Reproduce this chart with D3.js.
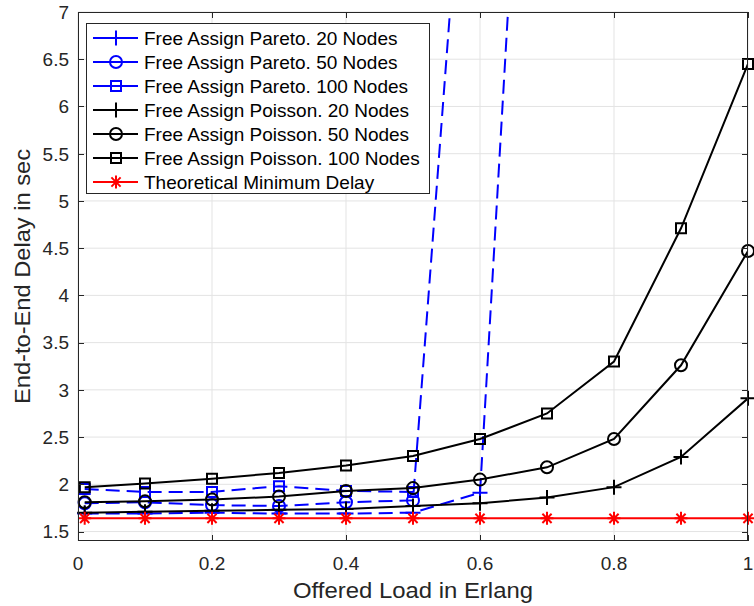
<!DOCTYPE html>
<html>
<head>
<meta charset="utf-8">
<script src="https://cdn.jsdelivr.net/npm/d3@7"></script>
<style>
  body { margin: 0; background: #fff; }
  svg { display: block; }
  text { font-family: "Liberation Sans", Arial, Helvetica, sans-serif; }
</style>
</head>
<body>
<svg id="chart" width="754" height="606"></svg>
<script>
// ---------- data ----------
const loads = [0.01, 0.1, 0.2, 0.3, 0.4, 0.5, 0.6, 0.7, 0.8, 0.9, 1.0];
const paretoN20  = [1.69, 1.69, 1.70, 1.69, 1.69, 1.70, 1.91, 14.1];
const paretoN50  = [1.80, 1.81, 1.78, 1.77, 1.81, 1.83, 11.2];
const paretoN100 = [1.95, 1.92, 1.92, 1.98, 1.93, 1.92];
const poissonN20  = [1.70, 1.71, 1.72, 1.73, 1.74, 1.77, 1.80, 1.86, 1.97, 2.29, 2.91];
const poissonN50  = [1.81, 1.82, 1.84, 1.87, 1.93, 1.96, 2.05, 2.18, 2.48, 3.26, 4.47];
const poissonN100 = [1.97, 2.01, 2.06, 2.12, 2.20, 2.30, 2.48, 2.75, 3.30, 4.71, 6.45];
const theoreticalMin = [1.64, 1.64, 1.64, 1.64, 1.64, 1.64, 1.64, 1.64, 1.64, 1.64, 1.64];

const seriesNames = [
  "Free Assign Pareto. 20 Nodes",
  "Free Assign Pareto. 50 Nodes",
  "Free Assign Pareto. 100 Nodes",
  "Free Assign Poisson. 20 Nodes",
  "Free Assign Poisson. 50 Nodes",
  "Free Assign Poisson. 100 Nodes",
  "Theoretical Minimum Delay"
];
const xTicks = [0, 0.2, 0.4, 0.6, 0.8, 1];
const yTicks = [1.5, 2, 2.5, 3, 3.5, 4, 4.5, 5, 5.5, 6, 6.5, 7];
const xTickLabels = ["0", "0.2", "0.4", "0.6", "0.8", "1"];
const yTickLabels = ["1.5", "2", "2.5", "3", "3.5", "4", "4.5", "5", "5.5", "6", "6.5", "7"];
const xLabel = "Offered Load in Erlang";
const yLabel = "End-to-End Delay in sec";

// ---------- styles ----------
const styles = [
  {values: paretoN20,  color: "#0000ff", dash: "14,7", marker: "plus"},
  {values: paretoN50,  color: "#0000ff", dash: "14,7", marker: "circle"},
  {values: paretoN100, color: "#0000ff", dash: "14,7", marker: "square"},
  {values: poissonN20,  color: "#000000", dash: null, marker: "plus"},
  {values: poissonN50,  color: "#000000", dash: null, marker: "circle"},
  {values: poissonN100, color: "#000000", dash: null, marker: "square"},
  {values: theoreticalMin, color: "#ff0000", dash: null, marker: "star"}
];

const L = 78, R = 748, T = 12, B = 541;
const svg = d3.select("#chart");
const x = d3.scaleLinear().domain([0, 1]).range([L, R]);
const y = d3.scaleLinear().domain([1.4, 7]).range([B, T]);
const axisColor = "#262626";

// grid
const grid = svg.append("g");
grid.selectAll(".gx").data(xTicks).enter().append("line")
  .attr("x1", d => x(d)).attr("x2", d => x(d)).attr("y1", T).attr("y2", B)
  .attr("stroke", "#e3e3e3").attr("stroke-width", 1);
grid.selectAll(".gy").data(yTicks).enter().append("line")
  .attr("x1", L).attr("x2", R).attr("y1", d => y(d)).attr("y2", d => y(d))
  .attr("stroke", "#e3e3e3").attr("stroke-width", 1);

// clip
svg.append("defs").append("clipPath").attr("id", "clip")
  .append("rect").attr("x", L).attr("y", T).attr("width", R - L).attr("height", B - T);

function markerPath(type) {
  if (type === "plus") { const s = 7.5; return `M${-s},0H${s}M0,${-s}V${s}`; }
  if (type === "square") { const s = 5; return `M${-s},${-s}H${s}V${s}H${-s}Z`; }
  if (type === "circle") { const r = 6; return `M${r},0A${r},${r} 0 1,1 ${-r},0A${r},${r} 0 1,1 ${r},0Z`; }
  if (type === "star") {
    const s = 6.5, d = 4.6;
    return `M${-s},0H${s}M0,${-s}V${s}M${-d},${-d}L${d},${d}M${-d},${d}L${d},${-d}`;
  }
}

const lineGen = d3.line().x(d => x(d[0])).y(d => y(d[1]));
const plotG = svg.append("g");
styles.forEach(st => {
  const pts = st.values.map((v, i) => [loads[i], v]);
  plotG.append("path")
    .attr("d", lineGen(pts))
    .attr("fill", "none")
    .attr("stroke", st.color)
    .attr("stroke-width", 2)
    .attr("stroke-dasharray", st.dash)
    .attr("clip-path", "url(#clip)");
  const vis = pts.filter(p => p[1] <= 7 && p[1] >= 1.4);
  plotG.selectAll(null).data(vis).enter().append("path")
    .attr("transform", p => `translate(${x(p[0])},${y(p[1])})`)
    .attr("d", markerPath(st.marker))
    .attr("fill", "none")
    .attr("stroke", st.color)
    .attr("stroke-width", 2);
});

// axes box
const ax = svg.append("g").attr("stroke", axisColor).attr("stroke-width", 1).attr("fill", "none");
ax.append("rect").attr("x", L + 0.5).attr("y", T + 0.5).attr("width", R - L - 1).attr("height", B - T - 1);
const tl = 6;
xTicks.forEach(t => {
  const px = Math.round(x(t)) + 0.5;
  ax.append("line").attr("x1", px).attr("x2", px).attr("y1", B).attr("y2", B - tl);
  ax.append("line").attr("x1", px).attr("x2", px).attr("y1", T).attr("y2", T + tl);
});
yTicks.forEach(t => {
  const py = Math.round(y(t)) + 0.5;
  ax.append("line").attr("x1", L).attr("x2", L + tl).attr("y1", py).attr("y2", py);
  ax.append("line").attr("x1", R).attr("x2", R - tl).attr("y1", py).attr("y2", py);
});

// tick labels
svg.selectAll(".xtl").data(xTicks).enter().append("text")
  .attr("x", d => x(d)).attr("y", 570)
  .attr("text-anchor", "middle").attr("font-size", 19).attr("fill", axisColor)
  .text((d, i) => xTickLabels[i]);
svg.selectAll(".ytl").data(yTicks).enter().append("text")
  .attr("x", 69).attr("y", d => y(d)).attr("dy", "0.36em")
  .attr("text-anchor", "end").attr("font-size", 19).attr("fill", axisColor)
  .text((d, i) => yTickLabels[i]);

// axis labels (condensed look)
svg.append("text").attr("x", (L + R) / 2).attr("y", 598)
  .attr("text-anchor", "middle").attr("font-size", 22).attr("fill", axisColor)
  .attr("textLength", 240).attr("lengthAdjust", "spacingAndGlyphs")
  .text(xLabel);
svg.append("text")
  .attr("transform", `translate(30,${(T + B) / 2}) rotate(-90)`)
  .attr("text-anchor", "middle").attr("font-size", 22).attr("fill", axisColor)
  .attr("textLength", 255).attr("lengthAdjust", "spacingAndGlyphs")
  .text(yLabel);

// legend
const lg = svg.append("g");
lg.append("rect").attr("x", 86.5).attr("y", 23.5).attr("width", 343).attr("height", 170)
  .attr("fill", "#fff").attr("stroke", axisColor).attr("stroke-width", 1);
styles.forEach((st, i) => {
  const cy = 38 + i * 24;
  lg.append("line").attr("x1", 93).attr("x2", 138).attr("y1", cy).attr("y2", cy)
    .attr("stroke", st.color).attr("stroke-width", 2);
  lg.append("path").attr("transform", `translate(116,${cy})`).attr("d", markerPath(st.marker))
    .attr("fill", "none").attr("stroke", st.color).attr("stroke-width", 2);
  lg.append("text").attr("x", 144).attr("y", cy).attr("dy", "0.36em")
    .attr("font-size", 19).attr("fill", "#000").text(seriesNames[i]);
});
</script>
</body>
</html>
